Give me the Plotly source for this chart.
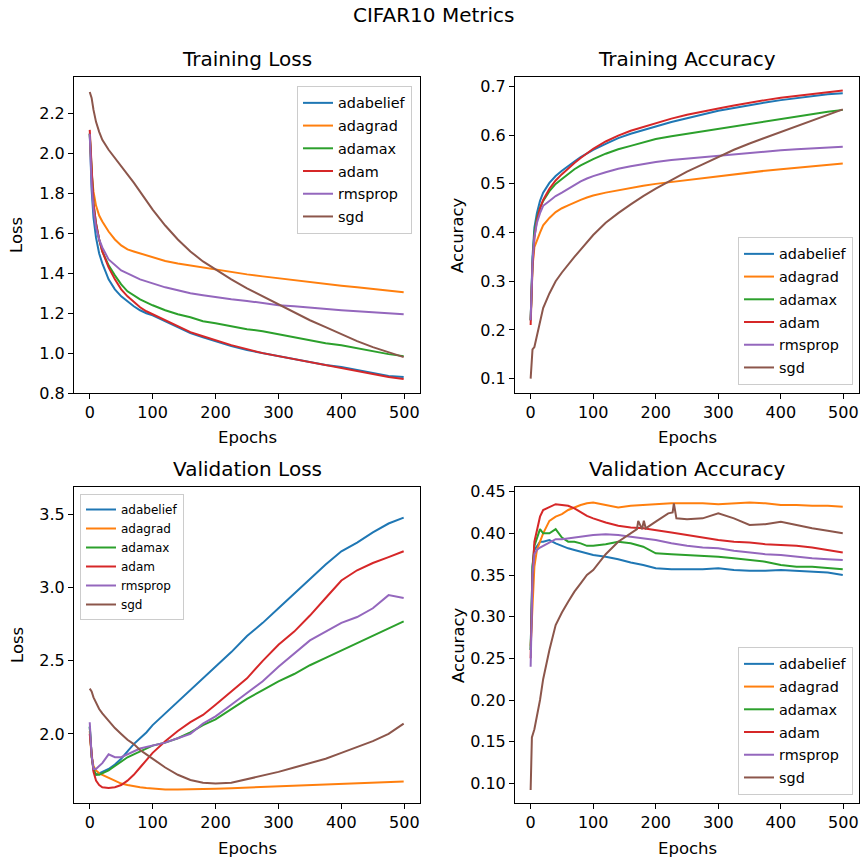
import plotly.graph_objects as go

# ---------------- data ----------------
EPOCHS = [0, 3, 6, 10, 15, 20, 30, 40, 50, 60, 70, 80, 90, 100, 120, 140, 160, 180,
          200, 225, 250, 275, 300, 325, 350, 375, 400, 425, 450, 475, 499]
OPTIMIZERS = ["adabelief", "adagrad", "adamax", "adam", "rmsprop", "sgd"]

# Training loss
tl_adabelief = [2.10, 1.82, 1.68, 1.58, 1.50, 1.45, 1.37, 1.32, 1.285, 1.26, 1.235, 1.215, 1.20, 1.19, 1.16, 1.13,
                1.10, 1.08, 1.06, 1.035, 1.015, 1.00, 0.985, 0.97, 0.955, 0.94, 0.93, 0.915, 0.90, 0.885, 0.88]
tl_adagrad = [2.10, 1.90, 1.81, 1.74, 1.69, 1.66, 1.61, 1.57, 1.54, 1.52, 1.51, 1.50, 1.49, 1.48, 1.462, 1.45,
              1.44, 1.43, 1.42, 1.405, 1.395, 1.385, 1.375, 1.365, 1.355, 1.347, 1.338, 1.33, 1.322, 1.314, 1.305]
tl_adamax = [2.10, 1.90, 1.75, 1.65, 1.57, 1.51, 1.44, 1.39, 1.345, 1.31, 1.29, 1.27, 1.255, 1.24, 1.215, 1.195,
             1.18, 1.16, 1.15, 1.135, 1.12, 1.11, 1.095, 1.08, 1.065, 1.05, 1.04, 1.025, 1.01, 0.995, 0.985]
tl_adam = [2.12, 1.90, 1.75, 1.65, 1.57, 1.51, 1.43, 1.37, 1.32, 1.285, 1.255, 1.23, 1.21, 1.195, 1.165, 1.135,
           1.105, 1.085, 1.065, 1.04, 1.02, 1.00, 0.985, 0.97, 0.955, 0.94, 0.925, 0.91, 0.895, 0.88, 0.87]
tl_rmsprop = [2.10, 1.85, 1.72, 1.63, 1.57, 1.53, 1.47, 1.44, 1.415, 1.40, 1.385, 1.37, 1.36, 1.35, 1.33, 1.315,
              1.30, 1.29, 1.28, 1.27, 1.262, 1.25, 1.24, 1.235, 1.228, 1.22, 1.215, 1.21, 1.205, 1.20, 1.195]
tl_sgd = [2.31, 2.28, 2.22, 2.16, 2.11, 2.07, 2.02, 1.98, 1.94, 1.90, 1.855, 1.81, 1.765, 1.72, 1.64, 1.57,
          1.51, 1.46, 1.42, 1.37, 1.325, 1.285, 1.245, 1.205, 1.165, 1.13, 1.095, 1.06, 1.03, 1.005, 0.98]

# Training accuracy
ta_adabelief = [0.22, 0.35, 0.41, 0.44, 0.465, 0.482, 0.502, 0.516, 0.527, 0.537, 0.546, 0.555, 0.563, 0.57, 0.582,
                0.594, 0.603, 0.611, 0.618, 0.627, 0.635, 0.643, 0.65, 0.656, 0.662, 0.667, 0.672, 0.676, 0.68,
                0.684, 0.686]
ta_adagrad = [0.22, 0.33, 0.37, 0.385, 0.40, 0.415, 0.43, 0.442, 0.45, 0.456, 0.462, 0.467, 0.472, 0.476, 0.482,
              0.487, 0.492, 0.496, 0.50, 0.504, 0.508, 0.512, 0.515, 0.519, 0.523, 0.527, 0.53, 0.533, 0.536,
              0.539, 0.542]
ta_adamax = [0.22, 0.34, 0.40, 0.43, 0.45, 0.465, 0.485, 0.50, 0.51, 0.521, 0.53, 0.538, 0.545, 0.551, 0.562,
             0.571, 0.578, 0.585, 0.592, 0.598, 0.603, 0.608, 0.613, 0.618, 0.624, 0.629, 0.634, 0.639, 0.643,
             0.648, 0.652]
ta_adam = [0.21, 0.33, 0.39, 0.425, 0.45, 0.467, 0.49, 0.507, 0.52, 0.532, 0.543, 0.553, 0.563, 0.572, 0.587,
           0.599, 0.609, 0.617, 0.625, 0.634, 0.642, 0.649, 0.655, 0.661, 0.667, 0.672, 0.677, 0.681, 0.685,
           0.689, 0.692]
ta_rmsprop = [0.22, 0.34, 0.39, 0.42, 0.44, 0.455, 0.465, 0.475, 0.482, 0.49, 0.498, 0.505, 0.511, 0.516, 0.524,
              0.531, 0.536, 0.541, 0.545, 0.549, 0.552, 0.555, 0.558, 0.561, 0.564, 0.567, 0.569, 0.571, 0.573,
              0.575, 0.576]
ta_sgd = [0.10, 0.16, 0.165, 0.19, 0.22, 0.245, 0.275, 0.30, 0.318, 0.335, 0.35, 0.365, 0.38, 0.395, 0.42, 0.44,
          0.458, 0.475, 0.49, 0.508, 0.525, 0.54, 0.555, 0.57, 0.583, 0.595, 0.607, 0.618, 0.63, 0.642, 0.653]

# Validation loss
vl_adabelief = [2.05, 1.85, 1.75, 1.72, 1.73, 1.74, 1.76, 1.79, 1.83, 1.88, 1.93, 1.97, 2.01, 2.06, 2.14, 2.22,
                2.30, 2.38, 2.46, 2.56, 2.67, 2.76, 2.86, 2.96, 3.06, 3.16, 3.25, 3.31, 3.38, 3.44, 3.48]
vl_adagrad = [2.02, 1.84, 1.78, 1.75, 1.73, 1.72, 1.70, 1.68, 1.66, 1.65, 1.64, 1.635, 1.63, 1.625, 1.62, 1.62,
              1.62, 1.622, 1.625, 1.628, 1.632, 1.636, 1.64, 1.645, 1.65, 1.655, 1.66, 1.664, 1.668, 1.672, 1.675]
vl_adamax = [2.05, 1.85, 1.76, 1.72, 1.72, 1.73, 1.75, 1.78, 1.81, 1.84, 1.86, 1.88, 1.90, 1.92, 1.94, 1.97,
             2.01, 2.06, 2.10, 2.17, 2.24, 2.30, 2.36, 2.41, 2.47, 2.52, 2.57, 2.62, 2.67, 2.72, 2.77]
vl_adam = [2.00, 1.85, 1.74, 1.68, 1.65, 1.635, 1.63, 1.635, 1.65, 1.68, 1.72, 1.77, 1.82, 1.87, 1.95, 2.02,
           2.08, 2.13, 2.20, 2.29, 2.38, 2.50, 2.61, 2.70, 2.81, 2.93, 3.05, 3.12, 3.17, 3.21, 3.25]
vl_rmsprop = [2.08, 1.85, 1.76, 1.76, 1.78, 1.80, 1.86, 1.84, 1.84, 1.86, 1.88, 1.90, 1.91, 1.92, 1.94, 1.97,
              2.00, 2.07, 2.12, 2.20, 2.28, 2.36, 2.46, 2.55, 2.64, 2.70, 2.76, 2.80, 2.86, 2.95, 2.93]
vl_sgd = [2.31, 2.29, 2.25, 2.21, 2.17, 2.14, 2.09, 2.04, 2.00, 1.96, 1.93, 1.89, 1.86, 1.83, 1.77, 1.72,
          1.685, 1.665, 1.66, 1.665, 1.69, 1.71, 1.74, 1.77, 1.80, 1.83, 1.87, 1.91, 1.95, 2.00, 2.07]

# Validation accuracy
va_adabelief = [0.26, 0.36, 0.38, 0.385, 0.39, 0.39, 0.392, 0.388, 0.385, 0.382, 0.38, 0.378, 0.376, 0.374, 0.372,
                0.369, 0.365, 0.362, 0.358, 0.357, 0.357, 0.357, 0.358, 0.356, 0.355, 0.355, 0.356, 0.355, 0.354,
                0.353, 0.35]
va_adagrad = [0.265, 0.32, 0.36, 0.38, 0.39, 0.40, 0.415, 0.42, 0.423, 0.428, 0.431, 0.434, 0.436, 0.437, 0.434,
              0.431, 0.433, 0.434, 0.435, 0.436, 0.436, 0.436, 0.435, 0.436, 0.437, 0.436, 0.434, 0.434, 0.433,
              0.433, 0.432]
va_adamax = [0.26, 0.36, 0.385, 0.395, 0.405, 0.40, 0.40, 0.405, 0.395, 0.39, 0.39, 0.388, 0.385, 0.385, 0.387,
             0.39, 0.388, 0.384, 0.376, 0.375, 0.374, 0.373, 0.372, 0.37, 0.368, 0.366, 0.362, 0.36, 0.36, 0.358,
             0.357]
va_adam = [0.25, 0.35, 0.39, 0.405, 0.42, 0.428, 0.432, 0.435, 0.434, 0.433, 0.43, 0.425, 0.421, 0.418, 0.413,
           0.409, 0.407, 0.406, 0.404, 0.401, 0.398, 0.395, 0.392, 0.39, 0.389, 0.387, 0.386, 0.385, 0.383, 0.38,
           0.377]
va_rmsprop = [0.24, 0.35, 0.375, 0.38, 0.383, 0.385, 0.39, 0.393, 0.393, 0.394, 0.395, 0.396, 0.397, 0.398, 0.399,
              0.398, 0.396, 0.394, 0.392, 0.388, 0.385, 0.383, 0.382, 0.379, 0.377, 0.375, 0.374, 0.372, 0.37,
              0.369, 0.368]
SGD_VA_EPOCHS = [0, 2, 6, 10, 15, 20, 30, 40, 50, 60, 70, 80, 90, 100, 120, 140, 160, 170, 172, 178, 181, 184,
                 200, 220, 227, 229, 233, 250, 275, 300, 325, 350, 375, 400, 425, 450, 475, 499]
va_sgd = [0.092, 0.155, 0.165, 0.18, 0.20, 0.225, 0.26, 0.29, 0.305, 0.318, 0.33, 0.34, 0.35, 0.356, 0.375, 0.39,
          0.40, 0.405, 0.415, 0.405, 0.415, 0.406, 0.414, 0.424, 0.425, 0.436, 0.418, 0.417, 0.418, 0.424, 0.418,
          0.41, 0.411, 0.414, 0.41, 0.406, 0.403, 0.40]

COLORS = ["#1f77b4", "#ff7f0e", "#2ca02c", "#d62728", "#9467bd", "#8c564b"]

panels = [
    dict(key="tl", title="Training Loss", ylab="Loss",
         series=[tl_adabelief, tl_adagrad, tl_adamax, tl_adam, tl_rmsprop, tl_sgd]),
    dict(key="ta", title="Training Accuracy", ylab="Accuracy",
         series=[ta_adabelief, ta_adagrad, ta_adamax, ta_adam, ta_rmsprop, ta_sgd]),
    dict(key="vl", title="Validation Loss", ylab="Loss",
         series=[vl_adabelief, vl_adagrad, vl_adamax, vl_adam, vl_rmsprop, vl_sgd]),
    dict(key="va", title="Validation Accuracy", ylab="Accuracy",
         series=[va_adabelief, va_adagrad, va_adamax, va_adam, va_rmsprop, va_sgd]),
]

W = H = 862
FONT = "DejaVu Sans"
# pixel frames of each axes box: (left, right, top, bottom)
frames = [(74, 420, 77, 393), (515, 859, 77, 393), (74, 420, 487, 803), (515, 859, 487, 803)]
yranges = [[0.80, 2.385], [0.0705, 0.7195], [1.527, 3.69], [0.0764, 0.4556]]
ydticks = [0.2, 0.1, 0.5, 0.05]
yfmts = [".1f", ".1f", ".1f", ".2f"]

fig = go.Figure()
legend_names = ["legend", "legend2", "legend3", "legend4"]

for i, p in enumerate(panels):
    xa = "x" if i == 0 else f"x{i+1}"
    ya = "y" if i == 0 else f"y{i+1}"
    for j, name in enumerate(OPTIMIZERS):
        xs = EPOCHS
        if p["key"] == "va" and name == "sgd":
            xs = SGD_VA_EPOCHS
        fig.add_trace(go.Scatter(
            x=xs, y=p["series"][j], mode="lines", name=name,
            line=dict(color=COLORS[j], width=2),
            xaxis=xa, yaxis=ya, legend=legend_names[i],
            legendgroup=f"{p['key']}_{name}",
        ))

layout = dict(width=W, height=H, autosize=False,
              margin=dict(l=0, r=0, t=0, b=0, autoexpand=False),
              paper_bgcolor="white", plot_bgcolor="white",
              font=dict(family=FONT, color="#000000"),
              showlegend=True)

annotations = []
for i, (l, r, t, b) in enumerate(frames):
    sx = "xaxis" if i == 0 else f"xaxis{i+1}"
    sy = "yaxis" if i == 0 else f"yaxis{i+1}"
    xa = "x" if i == 0 else f"x{i+1}"
    ya = "y" if i == 0 else f"y{i+1}"
    common = dict(showline=True, mirror=True, linecolor="#000000", linewidth=1,
                  showgrid=False, zeroline=False, ticks="outside", ticklen=5,
                  tickcolor="#000000", tickwidth=1, automargin=False,
                  tickfont=dict(family=FONT, size=16, color="#000000"))
    layout[sx] = dict(domain=[l / W, r / W], anchor=ya, range=[-25, 524.95],
                      tickmode="linear", tick0=0, dtick=100, **common)
    layout[sy] = dict(domain=[1 - b / H, 1 - t / H], anchor=xa, range=yranges[i],
                      tickmode="linear", tick0=0, dtick=ydticks[i], tickformat=yfmts[i], **common)
    cx = (l + r) / 2
    # subplot title
    annotations.append(dict(text=panels[i]["title"], x=cx / W, y=1 - (t - 18) / H,
                            xref="paper", yref="paper", xanchor="center", yanchor="middle",
                            showarrow=False, font=dict(family=FONT, size=20, color="#000000")))
    # x label
    annotations.append(dict(text="Epochs", x=cx / W, y=1 - (b + 45) / H,
                            xref="paper", yref="paper", xanchor="center", yanchor="middle",
                            showarrow=False, font=dict(family=FONT, size=16.5, color="#000000")))
    # y label
    ylx = 17 if l < 200 else 458
    annotations.append(dict(text=panels[i]["ylab"], x=ylx / W, y=1 - ((t + b) / 2) / H,
                            xref="paper", yref="paper", xanchor="center", yanchor="middle",
                            textangle=-90, showarrow=False,
                            font=dict(family=FONT, size=16.5, color="#000000")))

annotations.append(dict(text="CIFAR10 Metrics", x=434 / W, y=1 - 15 / H, xref="paper", yref="paper",
                        xanchor="center", yanchor="middle", showarrow=False,
                        font=dict(family=FONT, size=20, color="#000000")))
layout["annotations"] = annotations

leg_common = dict(bgcolor="rgba(255,255,255,0.8)", bordercolor="#cccccc", borderwidth=1,
                  orientation="v", itemclick=False, itemdoubleclick=False)
layout["legend"] = dict(x=412 / W, xanchor="right", y=1 - 86 / H, yanchor="top",
                        font=dict(family=FONT, size=14.4, color="#000000"), tracegroupgap=1, **leg_common)
layout["legend2"] = dict(x=853 / W, xanchor="right", y=1 - 385 / H, yanchor="bottom",
                         font=dict(family=FONT, size=14.4, color="#000000"), tracegroupgap=1, **leg_common)
layout["legend3"] = dict(x=80 / W, xanchor="left", y=1 - 494 / H, yanchor="top",
                         font=dict(family=FONT, size=12, color="#000000"), tracegroupgap=0, **leg_common)
layout["legend4"] = dict(x=853 / W, xanchor="right", y=1 - 795 / H, yanchor="bottom",
                         font=dict(family=FONT, size=14.4, color="#000000"), tracegroupgap=1, **leg_common)

fig.update_layout(**layout)
fig.write_html("out.html", config={"displayModeBar": False},
               post_script="document.body.style.margin='0';document.body.style.padding='0';"
                           "document.documentElement.style.overflow='hidden';")
